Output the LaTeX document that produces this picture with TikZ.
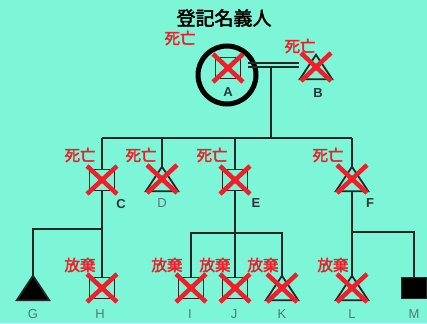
\documentclass[tikz,border=0pt]{standalone}
\usepackage{fontspec}
\setmainfont{Liberation Sans}
\newfontfamily\jp[FakeBold=2.5]{Noto Sans CJK JP}
\definecolor{bg}{RGB}{125,245,215}
\definecolor{xred}{RGB}{240,30,40}
\definecolor{lbl}{RGB}{40,55,55}
\definecolor{lbg}{RGB}{95,115,115}
\begin{document}
\begin{tikzpicture}[x=1pt,y=-1pt,
 ln/.style={line width=2pt, draw=black!85},
 dl/.style={line width=1.4pt, draw=black!85},
 sqp/.style={draw=black!85, line width=1.8pt, fill=bg, minimum width=25pt, minimum height=21pt, inner sep=0pt},
 trp/.style={minimum width=32pt, minimum height=24pt, inner sep=0pt},
 tri/.style={draw=black!85, line width=1.8pt, line join=miter, fill=bg},
 redx/.style={draw=xred, line width=4.5pt},
 dead/.style={text=xred, font=\jp\fontsize{15.5}{15.5}\selectfont, inner sep=0pt},
 pname/.style={text=lbl, font=\bfseries\fontsize{13}{13}\selectfont, inner sep=0pt},
 pnamel/.style={text=lbg, font=\fontsize{13}{13}\selectfont, inner sep=0pt},
]
\fill[bg] (0,0) rectangle (427,323);
\useasboundingbox (0,0) rectangle (427,323);

% persons
\node[sqp] (A) at (228,68) {};
\node[trp] (B) at (316,67) {};
\node[sqp] (C) at (102,180) {};
\node[trp] (D) at (162,179) {};
\node[sqp] (E) at (235,180) {};
\node[trp] (F) at (352,179) {};
\node[trp] (G) at (33,288) {};
\node[sqp] (H) at (102,288) {};
\node[sqp] (I) at (191,288) {};
\node[sqp] (J) at (235,288) {};
\node[trp] (K) at (282,288) {};
\node[trp] (L) at (352,288) {};
\node[sqp, fill=black] (M) at (414,288) {};

\node[circle, draw=black, line width=5pt, minimum size=58pt] (ring) at (227,75) {};

% coordinates for junctions
\coordinate (m) at (271,67);
\coordinate (r1) at (271,138);
\coordinate (r2c) at (102,229);
\coordinate (r2e) at (235,233);
\coordinate (r2f) at (352,232);

% connectors
\draw[dl] ([shift={(7,-5)}]A.east) -- ([shift={(-1,-4)}]B.west);
\draw[dl] ([shift={(7,-1)}]A.east) -- ([shift={(-1,0)}]B.west);
\draw[ln] (m) -- (r1);
\draw[ln] (C.north |- r1) -- (F.north |- r1);
\foreach \n in {C,D,E,F} \draw[ln] (\n.north |- r1) -- (\n.north);
\draw[ln] (C.south) -- (H.north);
\draw[ln] (r2c) -| (G.north);
\draw[ln] (E.south) -- (J.north);
\draw[ln] (I.north) |- (r2e) -| (K.north);
\draw[ln] (F.south) -- (L.north);
\draw[ln] (r2f) -| (M.north);

% triangles
\foreach \n in {B,D,F,K,L} \draw[tri] (\n.south west) -- (\n.north) -- (\n.south east) -- cycle;
\draw[tri, fill=black] (G.south west) -- (G.north) -- (G.south east) -- cycle;

% red crosses
\foreach \n in {A,B,C,D,E,F,H,I,J,K,L} {
  \draw[redx] ([shift={(-15,-14)}]\n.center) -- ([shift={(15,14)}]\n.center);
  \draw[redx] ([shift={(-15,14)}]\n.center) -- ([shift={(15,-14)}]\n.center);
}

% texts
\node[font=\jp\fontsize{19}{19}\selectfont, inner sep=0pt] (title) at (224,18) {登記名義人};
\node[dead] (dA) at (180,38) {死亡};
\node[dead] (dB) at (300,46) {死亡};
\node[dead] (dC) at (80,155) {死亡};
\node[dead] (dD) at (141,155) {死亡};
\node[dead] (dE) at (212,155) {死亡};
\node[dead] (dF) at (328,155) {死亡};
\node[dead] (hH) at (80,265) {放棄};
\node[dead] (hI) at (167,265) {放棄};
\node[dead] (hJ) at (215,265) {放棄};
\node[dead] (hK) at (263,265) {放棄};
\node[dead] (hL) at (333,265) {放棄};

\node[pname] (nA) at (228,92) {A};
\node[pname] (nB) at (318,93) {B};
\node[pname] (nC) at (121,204) {C};
\node[pnamel] (nD) at (162,203) {D};
\node[pname] (nE) at (256,203) {E};
\node[pname] (nF) at (370,203) {F};
\node[pnamel] (nG) at (33,314) {G};
\node[pnamel] (nH) at (100,314) {H};
\node[pnamel] (nI) at (190,314) {I};
\node[pnamel] (nJ) at (234,314) {J};
\node[pnamel] (nK) at (282,314) {K};
\node[pnamel] (nL) at (352,314) {L};
\node[pnamel] (nM) at (414,314) {M};
\end{tikzpicture}
\end{document}
